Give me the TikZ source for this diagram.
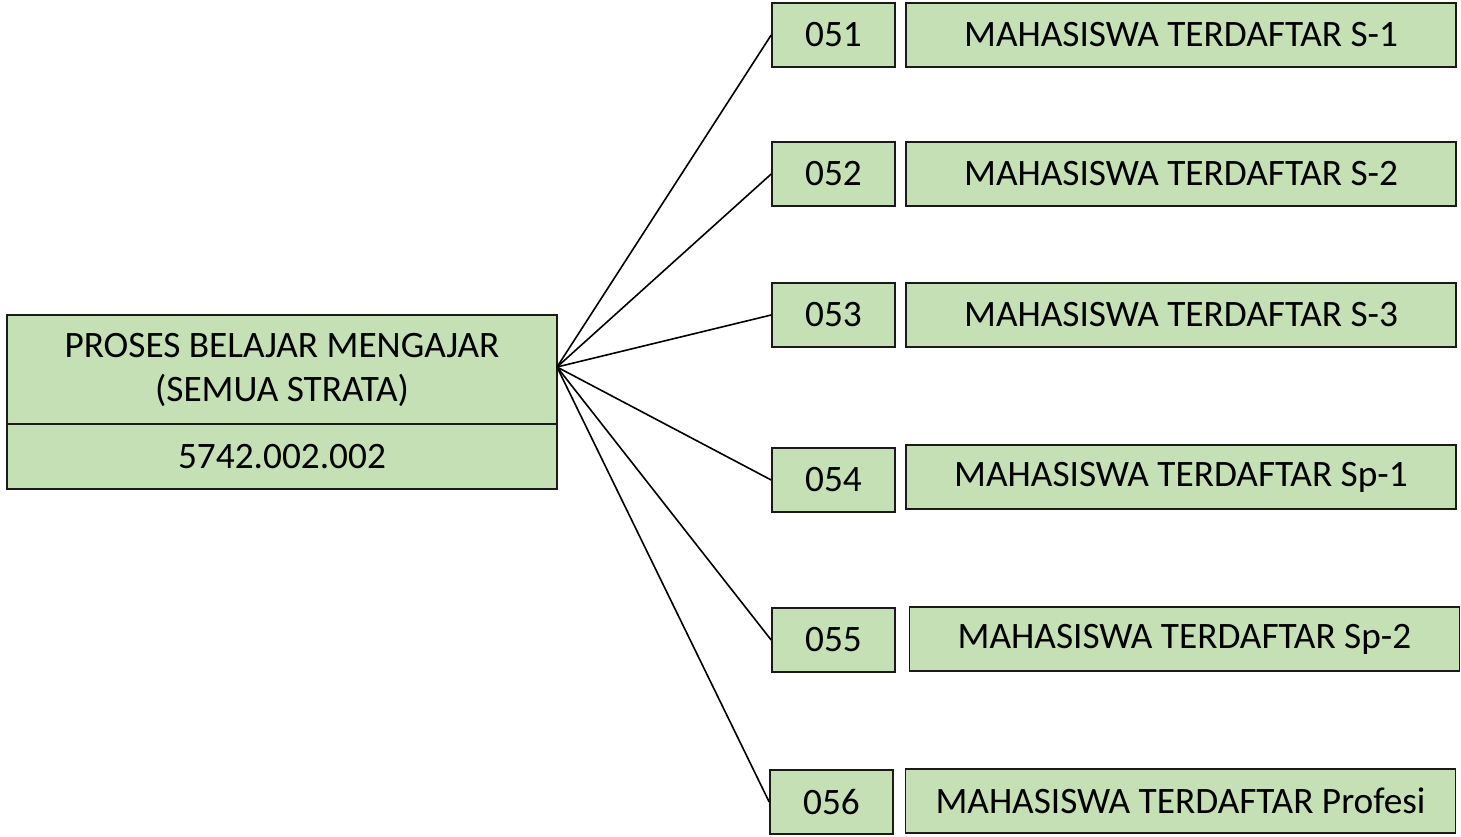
\documentclass[tikz,border=0pt]{standalone}
\usepackage{fontspec}
\setmainfont{Carlito}
\definecolor{boxgreen}{HTML}{C5E0B4}
\definecolor{edge}{HTML}{1A1A1A}
\begin{document}
\begin{tikzpicture}[x=1pt,y=-1pt,
  box/.style={draw=edge, fill=boxgreen, line width=1.6pt, inner sep=0pt,
    font=\fontsize{37.3}{44}\selectfont, align=center},
  numbox/.style={box, minimum width=123pt, minimum height=64pt},
  labbox/.style={box, minimum width=550pt, minimum height=64pt},
  link/.style={draw=black, line width=1.6pt}]
\useasboundingbox (0,0) rectangle (1461,836);
% main box
\node[box, minimum width=550pt, minimum height=109pt] (maintop) at (282,369.5)
  {PROSES BELAJAR MENGAJAR\\(SEMUA STRATA)};
\node[box, minimum width=550pt, minimum height=65pt] (mainbot) at (282,456.5) {5742.002.002};
\coordinate (hub) at (557,367);
% right boxes
\node[numbox] (n1) at (833.5,35) {051};
\node[labbox] (l1) at (1181,35) {MAHASISWA TERDAFTAR S-1};
\node[numbox] (n2) at (833.5,174) {052};
\node[labbox] (l2) at (1181,174) {MAHASISWA TERDAFTAR S-2};
\node[numbox] (n3) at (833.5,315) {053};
\node[labbox] (l3) at (1181,315) {MAHASISWA TERDAFTAR S-3};
\node[numbox] (n4) at (833.5,480) {054};
\node[labbox] (l4) at (1181,477) {MAHASISWA TERDAFTAR Sp-1};
\node[numbox] (n5) at (833.5,640) {055};
\node[labbox] (l5) at (1184.5,639) {MAHASISWA TERDAFTAR Sp-2};
\node[numbox] (n6) at (831.5,802) {056};
\node[labbox] (l6) at (1180.5,801) {MAHASISWA TERDAFTAR Profesi};
% connectors
\foreach \n in {n1,n2,n3,n4,n5,n6} \draw[link] (hub) -- (\n.west);
\end{tikzpicture}
\end{document}
